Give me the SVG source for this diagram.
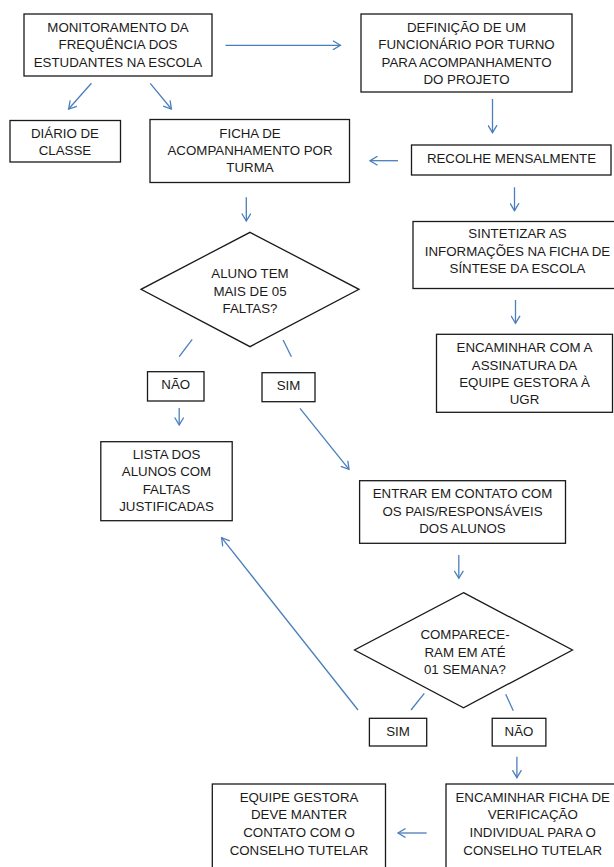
<svg xmlns="http://www.w3.org/2000/svg" width="614" height="867" viewBox="0 0 614 867">
<style>
  .box { fill: #ffffff; stroke: #1a1a1a; stroke-width: 1.3; }
  .t { font-family: "Liberation Sans", Arial, sans-serif; font-size: 13.3px; fill: #1a1a1a; text-anchor: middle; }
  .c { fill: none; stroke: #4a7ebb; stroke-width: 1.3; }
  .a { marker-end: url(#arr); }
</style>
<defs>
  <marker id="arr" viewBox="0 0 10 10" refX="8" refY="5" markerWidth="10" markerHeight="10" markerUnits="userSpaceOnUse" orient="auto">
    <path d="M0.5,0.5 L8,5 L0.5,9.5" fill="none" stroke="#4a7ebb" stroke-width="1.3"/>
  </marker>
</defs>
<rect width="614" height="867" fill="#ffffff"/>

<g id="connectors">
  <line class="c a" x1="225.5" y1="45.3" x2="340.4" y2="45.3"/>
  <line class="c a" x1="91.4" y1="83.3" x2="68.6" y2="109"/>
  <line class="c a" x1="150.2" y1="83.3" x2="171.4" y2="109"/>
  <line class="c a" x1="492.5" y1="99" x2="492.5" y2="132.7"/>
  <line class="c a" x1="398" y1="160.7" x2="370" y2="160.7"/>
  <line class="c a" x1="246.3" y1="197.3" x2="246.3" y2="221"/>
  <line class="c a" x1="514.5" y1="187.3" x2="514.5" y2="210.7"/>
  <line class="c a" x1="515.5" y1="300" x2="515.5" y2="323.3"/>
  <line class="c" x1="192.2" y1="339.3" x2="179.2" y2="356.7"/>
  <line class="c" x1="283.1" y1="340" x2="291.4" y2="356.7"/>
  <line class="c a" x1="179.2" y1="408" x2="179.2" y2="425"/>
  <line class="c a" x1="300" y1="408.3" x2="349" y2="469.3"/>
  <line class="c a" x1="458.8" y1="555" x2="458.8" y2="578.3"/>
  <line class="c a" x1="358" y1="710" x2="221.6" y2="537.7"/>
  <line class="c" x1="424.3" y1="693.3" x2="411" y2="710"/>
  <line class="c" x1="505.7" y1="694.3" x2="513.3" y2="710.7"/>
  <line class="c a" x1="516.9" y1="756.7" x2="516.9" y2="777.7"/>
  <line class="c a" x1="426.7" y1="833" x2="398" y2="833"/>
</g>

<g id="n-monitoramento">
  <rect class="box" x="24" y="14" width="188" height="62"/>
  <text class="t" x="118" y="31.5">MONITORAMENTO DA</text>
  <text class="t" x="118" y="49">FREQUÊNCIA DOS</text>
  <text class="t" x="118" y="66.5">ESTUDANTES NA ESCOLA</text>
</g>

<g id="n-definicao">
  <rect class="box" x="361" y="14" width="211" height="78"/>
  <text class="t" x="466.5" y="31.5">DEFINIÇÃO DE UM</text>
  <text class="t" x="466.5" y="49">FUNCIONÁRIO POR TURNO</text>
  <text class="t" x="466.5" y="66.5">PARA ACOMPANHAMENTO</text>
  <text class="t" x="466.5" y="84">DO PROJETO</text>
</g>

<g id="n-diario">
  <rect class="box" x="10" y="120.5" width="110.5" height="41.5"/>
  <text class="t" x="65" y="137.5">DIÁRIO DE</text>
  <text class="t" x="65" y="155">CLASSE</text>
</g>

<g id="n-ficha">
  <rect class="box" x="150" y="119.5" width="199.5" height="63"/>
  <text class="t" x="250" y="137.5">FICHA DE</text>
  <text class="t" x="250" y="155">ACOMPANHAMENTO POR</text>
  <text class="t" x="250" y="172">TURMA</text>
</g>

<g id="n-recolhe">
  <rect class="box" x="411.5" y="145" width="199.5" height="30"/>
  <text class="t" x="511.5" y="162.5">RECOLHE MENSALMENTE</text>
</g>

<g id="n-sintetizar">
  <rect class="box" x="413" y="221.5" width="209" height="67"/>
  <text class="t" x="517.5" y="238">SINTETIZAR AS</text>
  <text class="t" x="517.5" y="255.5">INFORMAÇÕES NA FICHA DE</text>
  <text class="t" x="517.5" y="273">SÍNTESE DA ESCOLA</text>
</g>

<g id="n-encaminhar-assinatura">
  <rect class="box" x="436.5" y="334.3" width="176" height="78"/>
  <text class="t" x="524.5" y="352.3">ENCAMINHAR COM A</text>
  <text class="t" x="524.5" y="369.8">ASSINATURA DA</text>
  <text class="t" x="524.5" y="387.3">EQUIPE GESTORA À</text>
  <text class="t" x="524.5" y="404.3">UGR</text>
</g>

<g id="n-decisao1">
  <polygon class="box" points="250,232.3 359,289.3 250,346.7 141,289.3"/>
  <text class="t" x="250" y="278.3">ALUNO TEM</text>
  <text class="t" x="250" y="295.6">MAIS DE 05</text>
  <text class="t" x="250" y="313">FALTAS?</text>
</g>

<g id="n-nao1">
  <rect class="box" x="147.5" y="371.7" width="56.5" height="29.3"/>
  <text class="t" x="175.7" y="389">NÃO</text>
</g>

<g id="n-sim1">
  <rect class="box" x="262" y="372.7" width="53" height="29"/>
  <text class="t" x="288.5" y="389.5">SIM</text>
</g>

<g id="n-lista">
  <rect class="box" x="100.8" y="441.7" width="131.4" height="79"/>
  <text class="t" x="166.5" y="458.8">LISTA DOS</text>
  <text class="t" x="166.5" y="476">ALUNOS COM</text>
  <text class="t" x="166.5" y="494">FALTAS</text>
  <text class="t" x="166.5" y="511">JUSTIFICADAS</text>
</g>

<g id="n-entrar">
  <rect class="box" x="359.6" y="480.7" width="205.9" height="62.6"/>
  <text class="t" x="462.5" y="498">ENTRAR EM CONTATO COM</text>
  <text class="t" x="462.5" y="515.5">OS PAIS/RESPONSÁVEIS</text>
  <text class="t" x="462.5" y="533">DOS ALUNOS</text>
</g>

<g id="n-decisao2">
  <polygon class="box" points="463.5,592.7 572.5,650 463.5,707.7 354.5,650"/>
  <text class="t" x="465" y="639.3">COMPARECE-</text>
  <text class="t" x="465" y="656.7">RAM EM ATÉ</text>
  <text class="t" x="465" y="674.3">01 SEMANA?</text>
</g>

<g id="n-sim2">
  <rect class="box" x="369.4" y="718.3" width="57.3" height="27.7"/>
  <text class="t" x="398" y="736">SIM</text>
</g>

<g id="n-nao2">
  <rect class="box" x="492.2" y="718.3" width="53.7" height="27.7"/>
  <text class="t" x="519" y="736">NÃO</text>
</g>

<g id="n-equipe">
  <rect class="box" x="212.3" y="784" width="173.2" height="96"/>
  <text class="t" x="299" y="801.7">EQUIPE GESTORA</text>
  <text class="t" x="299" y="819.3">DEVE MANTER</text>
  <text class="t" x="299" y="836.7">CONTATO COM O</text>
  <text class="t" x="299" y="855">CONSELHO TUTELAR</text>
</g>

<g id="n-encaminhar-ficha">
  <rect class="box" x="446" y="784" width="174" height="96"/>
  <text class="t" x="532.7" y="801.7">ENCAMINHAR FICHA DE</text>
  <text class="t" x="532.7" y="819.3">VERIFICAÇÃO</text>
  <text class="t" x="532.7" y="836.7">INDIVIDUAL PARA O</text>
  <text class="t" x="532.7" y="855">CONSELHO TUTELAR</text>
</g>
</svg>
